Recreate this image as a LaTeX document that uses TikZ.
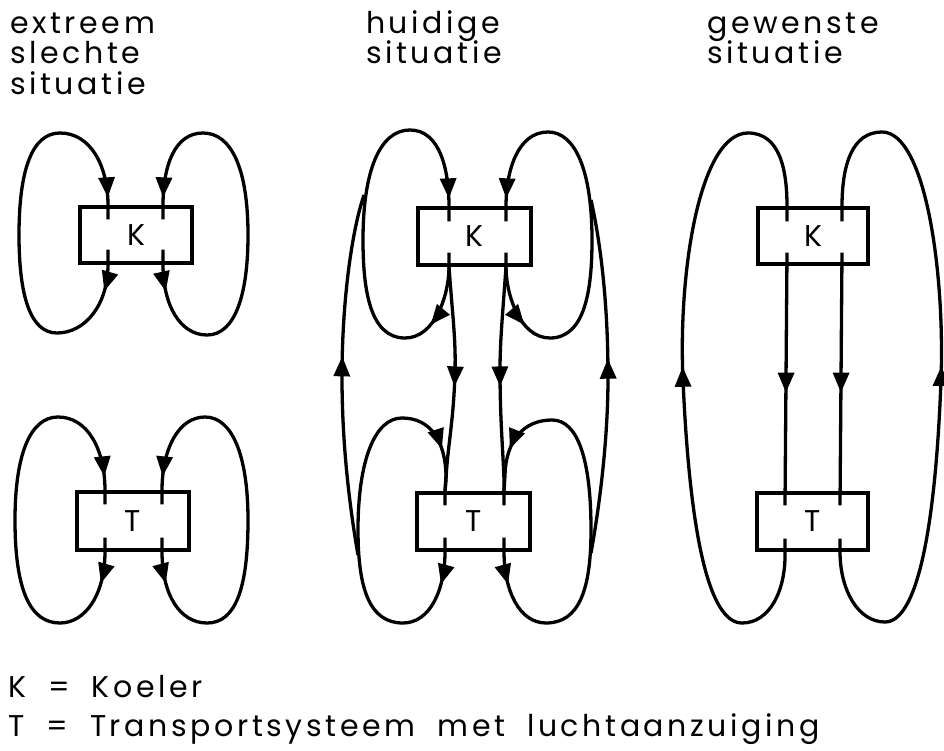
\documentclass[tikz,border=0pt]{standalone}
\usepackage{fontspec}
\setmainfont{Poppins}[LetterSpace=12]
\usetikzlibrary{arrows.meta,decorations.markings,calc}
\newcommand\widespaces{\spaceskip=22pt plus 2pt\relax}
\tikzset{
  Tri/.tip={Triangle[length=20pt,width=16pt]},
  flow/.style={line width=3.3pt, line join=round},
  unit/.style={draw, line width=3.3pt, inner sep=0pt, font=\fontsize{30}{34}\selectfont},
  lbl/.style={anchor=base west, inner sep=0pt, font=\fontsize{30}{34}\selectfont\widespaces},
  tipat/.style={postaction={decorate, decoration={markings, mark=at position #1 with {\arrow{Tri}}}}},
  tipsat/.style 2 args={postaction={decorate, decoration={markings,
      mark=at position #1 with {\arrow{Tri}}, mark=at position #2 with {\arrow{Tri}}}}},
}
\begin{document}
\begin{tikzpicture}[x=1pt,y=-1pt]
\useasboundingbox (0,0) rectangle (944,751);

% headings
\node[lbl] (h1a) at (10,34) {extreem};
\node[lbl] (h1b) at (10,64) {slechte};
\node[lbl] (h1c) at (10,95) {situatie};
\node[lbl] (h2a) at (366,34) {huidige};
\node[lbl] (h2b) at (366,64) {situatie};
\node[lbl] (h3a) at (707,34) {gewenste};
\node[lbl] (h3b) at (707,64) {situatie};

% units
\node[unit, minimum width=112pt, minimum height=56pt] (K1) at (136,235) {K};
\node[unit, minimum width=112pt, minimum height=58pt] (T1) at (133,521) {T};
\node[unit, minimum width=113pt, minimum height=57pt] (K2) at (474.5,236.5) {K};
\node[unit, minimum width=113pt, minimum height=57pt] (T2) at (473.5,521.5) {T};
\node[unit, minimum width=110pt, minimum height=56pt] (K3) at (813,236) {K};
\node[unit, minimum width=111pt, minimum height=57pt] (T3) at (812.5,521.5) {T};

% ---- extreme situation: closed loops around each unit
\draw[flow, tipsat={42pt}{-22pt}] ($(K1.south)+(-28,-15)$) -- ($(K1.south)+(-28,0)$)
  .. controls (108,305) and (85,333) .. (57,333) .. controls (30,333) and (19,295) .. (19,235)
  .. controls (19,170) and (32,133) .. (60,133) .. controls (90,133) and (108,165) .. ($(K1.north)+(-28,0)$)
  -- ($(K1.north)+(-28,14)$);
\draw[flow, tipsat={42pt}{-22pt}] ($(K1.south)+(27,-15)$) -- ($(K1.south)+(27,0)$)
  .. controls (163,305) and (180,335) .. (207,335) .. controls (235,335) and (248,295) .. (248,235)
  .. controls (248,170) and (232,133) .. (203,133) .. controls (175,133) and (163,165) .. ($(K1.north)+(27,0)$)
  -- ($(K1.north)+(27,14)$);
\draw[flow, tipsat={46pt}{-28pt}] ($(T1.south)+(-28,-14)$) -- ($(T1.south)+(-28,0)$)
  .. controls (105,595) and (85,623) .. (60,623) .. controls (30,623) and (15,590) .. (15,520)
  .. controls (15,455) and (30,417) .. (58,417) .. controls (88,417) and (105,450) .. ($(T1.north)+(-28,0)$)
  -- ($(T1.north)+(-28,14)$);
\draw[flow, tipsat={46pt}{-28pt}] ($(T1.south)+(29,-14)$) -- ($(T1.south)+(29,0)$)
  .. controls (162,595) and (180,623) .. (207,623) .. controls (235,623) and (248,590) .. (248,520)
  .. controls (248,455) and (232,417) .. (205,417) .. controls (178,417) and (162,450) .. ($(T1.north)+(29,0)$)
  -- ($(T1.north)+(29,14)$);

% ---- current situation
% loops around K
\draw[flow, tipsat={76pt}{-23pt}] ($(K2.south)+(-25.5,-14)$) -- ($(K2.south)+(-25.5,0)$)
  .. controls (449,295) and (435,338) .. (405,338) .. controls (370,338) and (363,290) .. (363,240)
  .. controls (363,170) and (380,130) .. (410,130) .. controls (440,130) and (449,170) .. ($(K2.north)+(-25.5,0)$)
  -- ($(K2.north)+(-25.5,15)$);
\draw[flow, tipsat={76pt}{-23pt}] ($(K2.south)+(31.5,-14)$) -- ($(K2.south)+(31.5,0)$)
  .. controls (506,295) and (520,338) .. (550,338) .. controls (585,338) and (592,290) .. (592,240)
  .. controls (592,170) and (575,132) .. (548,132) .. controls (518,132) and (506,170) .. ($(K2.north)+(31.5,0)$)
  -- ($(K2.north)+(31.5,15)$);
% straight-through flow K -> T
\draw[flow, tipat=120pt] ($(K2.south)+(-25.5,0)$)
  .. controls (452,310) and (456,340) .. (455,370) .. controls (454,420) and (447,450) .. (446,480)
  -- ($(T2.north)+(-28.5,0)$) -- ($(T2.north)+(-28.5,14)$);
\draw[flow, tipat=120pt] ($(K2.south)+(31.5,0)$)
  .. controls (503,310) and (500,340) .. (500,370) .. controls (500,420) and (503,450) .. (504,480)
  -- ($(T2.north)+(30.5,0)$) -- ($(T2.north)+(30.5,14)$);
% loops around T
\draw[flow, tipsat={47pt}{-43pt}] ($(T2.south)+(-28.5,-14)$) -- ($(T2.south)+(-28.5,0)$)
  .. controls (445,590) and (430,623) .. (403,623) .. controls (370,623) and (358,590) .. (358,530)
  .. controls (358,460) and (375,418) .. (402,418) .. controls (430,418) and (445,440) .. (446,475)
  -- ($(T2.north)+(-28.5,0)$);
\draw[flow, tipsat={47pt}{-43pt}] ($(T2.south)+(30.5,-14)$) -- ($(T2.south)+(30.5,0)$)
  .. controls (504,590) and (519,623) .. (546,623) .. controls (579,623) and (591,590) .. (591,530)
  .. controls (591,460) and (578,420) .. (552,420) .. controls (524,420) and (506,440) .. (505,475)
  -- ($(T2.north)+(30.5,0)$);
% return paths T -> K
\draw[flow, tipat=0.55] (358,555) .. controls (345,480) and (342,420) .. (342,377)
  .. controls (342,300) and (352,230) .. (364,195);
\draw[flow, tipat=0.55] (591,553) .. controls (604,480) and (608,420) .. (608,377)
  .. controls (608,300) and (600,240) .. (591,200);

% ---- desired situation
\draw[flow, tipat=140pt] ($(K3.south)+(-26,-13)$) -- ($(T3.north)+(-27.5,14)$);
\draw[flow, tipat=140pt] ($(K3.south)+(29,-13)$) -- ($(T3.north)+(27.5,14)$);
\draw[flow, tipat=0.51] ($(T3.south)+(-27.5,-13)$) -- ($(T3.south)+(-27.5,0)$)
  .. controls (786,590) and (770,623) .. (742,623) .. controls (710,623) and (690,540) .. (683,380)
  .. controls (678,270) and (700,133) .. (748,133) .. controls (780,133) and (787,170) .. ($(K3.north)+(-26,0)$)
  -- ($(K3.north)+(-26,15)$);
\draw[flow, tipat=0.51] ($(T3.south)+(27.5,-13)$) -- ($(T3.south)+(27.5,0)$)
  .. controls (840,590) and (858,622) .. (885,622) .. controls (915,622) and (935,540) .. (941,380)
  .. controls (945,270) and (925,132) .. (882,132) .. controls (852,132) and (842,165) .. ($(K3.north)+(29,0)$)
  -- ($(K3.north)+(29,15)$);

% legend
\node[lbl] (leg1) at (8,697) {K = Koeler};
\node[lbl] (leg2) at (8,736) {T = Transportsysteem met luchtaanzuiging};
\end{tikzpicture}
\end{document}
